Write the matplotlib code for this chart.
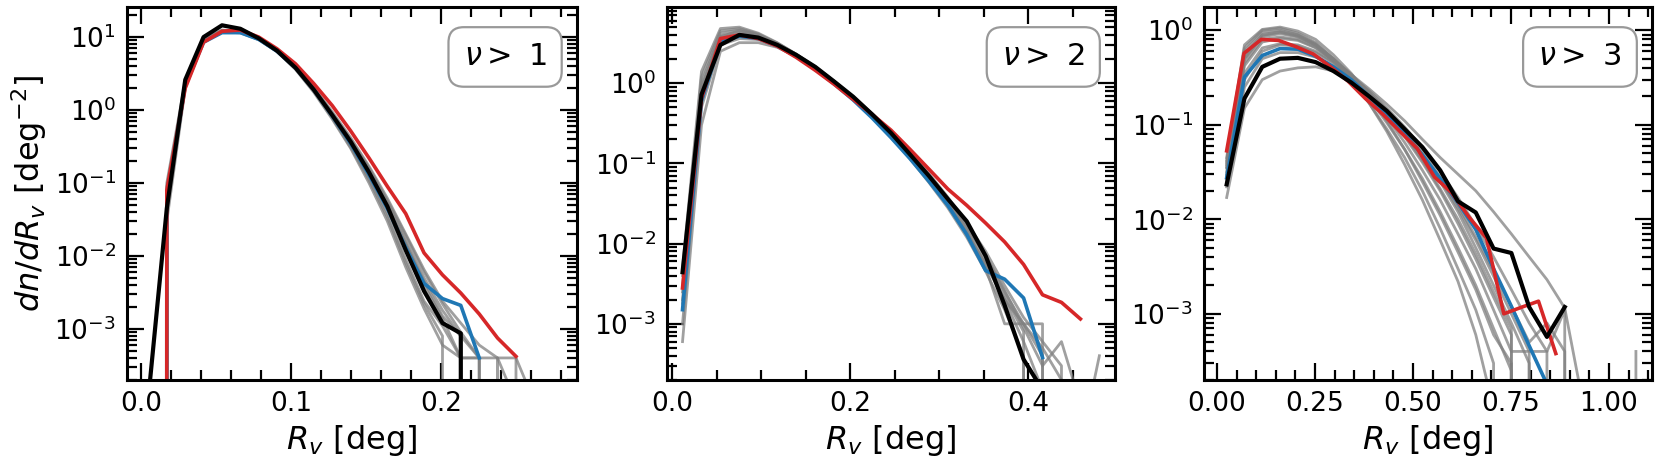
import matplotlib
matplotlib.use('Agg')
import matplotlib.pyplot as plt
from matplotlib.ticker import AutoMinorLocator, LogLocator

# ---- panel 1 : nu > 1 ----
x1 = [0.005, 0.0172, 0.0295, 0.0417, 0.054, 0.0662, 0.0785, 0.0907, 0.103, 0.1152, 0.1275,
      0.1397, 0.152, 0.1642, 0.1765, 0.1887, 0.201, 0.2132, 0.2255, 0.2377, 0.25, 0.2622]
black1 = [1.2e-4, 0.045, 2.6, 10, 14.5, 13, 9.6, 6.5, 3.8, 1.9, 0.85, 0.37, 0.14, 0.048, 0.012,
          3.3e-3, 1.2e-3, 8.7e-4, 0]
blue1 = [0, 0.06, 2.2, 8.5, 11.5, 11.5, 9.3, 6.4, 3.8, 1.9, 0.83, 0.35, 0.13, 0.045, 0.013,
         4.2e-3, 2.6e-3, 2.1e-3, 4e-4]
red1 = [0, 0.08, 2.0, 8.5, 12, 12.5, 10, 6.9, 4.3, 2.3, 1.15, 0.52, 0.22, 0.09, 0.038,
        0.011, 5.5e-3, 3.1e-3, 1.6e-3, 7.5e-4, 4.2e-4]
grey1 = [
    [0, 0.05, 2.3, 9.5, 12.5, 12, 9.4, 6.3, 3.7, 1.85, 0.8, 0.33, 0.12, 0.038, 9e-3, 2.4e-3, 1.1e-3, 4e-4, 4e-4, 0],
    [0, 0.1, 2.5, 9, 12, 11.8, 9.5, 6.6, 3.9, 2.0, 0.9, 0.4, 0.16, 0.055, 0.016, 5e-3, 1.8e-3, 8e-4, 4e-4, 0, 4e-4],
    [0, 0.04, 2.1, 8.8, 11.8, 11.4, 9.2, 6.3, 3.6, 1.75, 0.75, 0.3, 0.1, 0.03, 7e-3, 1.9e-3, 6e-4, 4e-4, 0],
    [0, 0.07, 2.4, 9.2, 12.2, 12, 9.7, 6.7, 4.0, 2.05, 0.95, 0.42, 0.17, 0.062, 0.02, 6.5e-3, 2.4e-3, 1.2e-3, 6e-4, 4e-4, 4e-4, 1e-4],
    [0, 0.03, 2.0, 8.6, 11.6, 11.6, 9.3, 6.4, 3.7, 1.8, 0.78, 0.31, 0.11, 0.034, 8e-3, 2.2e-3, 8e-4, 0],
    [0, 0.09, 2.3, 9.0, 11.9, 11.7, 9.4, 6.5, 3.85, 1.95, 0.88, 0.38, 0.15, 0.05, 0.015, 4.5e-3, 1.5e-3, 8e-4, 0, 4e-4, 0],
    [0, 0.06, 2.2, 8.9, 12.1, 11.9, 9.5, 6.5, 3.8, 1.9, 0.85, 0.36, 0.14, 0.048, 0.014, 4e-3, 1.4e-3, 4e-4, 4e-4, 4e-4, 1e-4],
    [0, 0.05, 2.2, 9.1, 12.3, 12.1, 9.6, 6.6, 3.9, 2.0, 0.9, 0.4, 0.16, 0.058, 0.019, 6e-3, 2.2e-3, 9e-4, 4e-4, 0],
]

# ---- panel 2 : nu > 2 ----
x2 = [0.0115, 0.0328, 0.0541, 0.0754, 0.0967, 0.118, 0.1393, 0.1606, 0.1819, 0.2032, 0.2245, 0.2458,
      0.2671, 0.2884, 0.3097, 0.331, 0.3523, 0.3736, 0.3949, 0.4162, 0.4375, 0.4588, 0.4801]
black2 = [4.4e-3, 0.72, 3.0, 4.0, 3.7, 3.0, 2.25, 1.6, 1.05, 0.68, 0.41, 0.24, 0.13, 0.07, 0.036,
          0.019, 7e-3, 1.7e-3, 3.6e-4, 1.5e-4]
blue2 = [1.5e-3, 0.6, 3.3, 3.85, 3.6, 2.9, 2.15, 1.5, 0.98, 0.62, 0.37, 0.21, 0.115, 0.06, 0.03,
         0.013, 4.6e-3, 3.6e-3, 2.1e-3, 3.8e-4]
red2 = [2.8e-3, 0.65, 3.6, 4.0, 3.6, 2.9, 2.1, 1.45, 0.97, 0.63, 0.41, 0.26, 0.15, 0.085, 0.048,
        0.03, 0.018, 0.0105, 5.5e-3, 2.3e-3, 1.85e-3, 1.15e-3]
grey2 = [
    [5e-3, 1.4, 4.8, 5.0, 4.2, 3.2, 2.3, 1.6, 1.05, 0.66, 0.4, 0.23, 0.125, 0.066, 0.032, 0.015, 6e-3, 2.2e-3, 8e-4, 0],
    [6e-4, 0.3, 2.5, 3.2, 3.2, 2.8, 2.15, 1.55, 1.02, 0.65, 0.39, 0.22, 0.12, 0.062, 0.03, 0.014, 5.5e-3, 2e-3, 1e-3, 4e-4, 0],
    [2e-3, 0.8, 3.8, 4.5, 4.0, 3.1, 2.25, 1.55, 1.0, 0.64, 0.38, 0.215, 0.115, 0.058, 0.028, 0.012, 4.5e-3, 1.5e-3, 4e-4, 0],
    [3e-3, 1.0, 4.2, 4.6, 4.0, 3.15, 2.3, 1.6, 1.06, 0.68, 0.42, 0.25, 0.14, 0.075, 0.038, 0.018, 8e-3, 3e-3, 1.2e-3, 6e-4, 3e-4, 0],
    [1e-3, 0.5, 3.0, 3.6, 3.5, 2.95, 2.2, 1.55, 1.03, 0.66, 0.4, 0.23, 0.125, 0.065, 0.031, 0.0135, 5e-3, 1e-3, 1e-3, 1e-3, 0],
    [4e-3, 1.2, 4.5, 4.8, 4.1, 3.15, 2.28, 1.58, 1.04, 0.66, 0.4, 0.23, 0.127, 0.066, 0.033, 0.016, 7e-3, 2.6e-3, 9e-4, 3e-4, 6e-4, 1e-4],
    [1.8e-3, 0.6, 3.4, 4.1, 3.8, 3.05, 2.25, 1.57, 1.03, 0.66, 0.4, 0.228, 0.122, 0.062, 0.03, 0.0135, 5.5e-3, 2e-3, 6e-4, 1.5e-4],
    [2.5e-3, 0.9, 3.9, 4.3, 3.9, 3.1, 2.28, 1.58, 1.05, 0.67, 0.41, 0.24, 0.13, 0.07, 0.035, 0.017, 7e-3, 2.5e-3, 1e-3, 5e-4, 2e-4, 3e-5, 4e-4],
]

# ---- panel 3 : nu > 3 ----
x3 = [0.0247, 0.0701, 0.1155, 0.1609, 0.2063, 0.2517, 0.2971, 0.3425, 0.3879, 0.4333, 0.4787, 0.5241,
      0.5695, 0.6149, 0.6603, 0.7057, 0.7511, 0.7965, 0.8419, 0.8873, 0.9327, 0.9781, 1.0235, 1.0689]
x3_red = [0.0247, 0.0689, 0.1131, 0.1573, 0.2015, 0.2457, 0.2899, 0.3341, 0.3783, 0.4225, 0.4667,
          0.5109, 0.5551, 0.5993, 0.6435, 0.6877, 0.7319, 0.7761, 0.8203, 0.8645]
black3 = [0.0234, 0.19, 0.41, 0.5, 0.51, 0.46, 0.37, 0.28, 0.2, 0.14, 0.09, 0.058, 0.033, 0.0155,
          0.0118, 4.9e-3, 4.4e-3, 1.18e-3, 5.7e-4, 1.18e-3]
blue3 = [0.0275, 0.32, 0.54, 0.64, 0.63, 0.53, 0.41, 0.3, 0.2, 0.13, 0.08, 0.048, 0.027, 0.015,
         7.8e-3, 3.0e-3, 1.2e-3, 4.6e-4, 1.8e-4]
red3 = [0.053, 0.57, 0.8, 0.78, 0.67, 0.56, 0.41, 0.29, 0.19, 0.13, 0.085, 0.056, 0.028, 0.019,
        0.0105, 6.3e-3, 1.0e-3, 1.17e-3, 1.36e-3, 3.8e-4]
grey3 = [
    [0.017, 0.15, 0.3, 0.37, 0.4, 0.41, 0.37, 0.3, 0.21, 0.14, 0.085, 0.048, 0.025, 0.012, 5e-3, 2e-3, 8e-4, 3e-4, 0],
    [0.045, 0.7, 1.02, 1.08, 0.98, 0.8, 0.55, 0.35, 0.2, 0.11, 0.055, 0.025, 0.011, 4.5e-3, 1.8e-3, 6e-4, 3e-4, 0],
    [0.04, 0.6, 0.95, 1.0, 0.9, 0.72, 0.5, 0.33, 0.2, 0.12, 0.065, 0.033, 0.016, 7e-3, 3e-3, 1.1e-3, 4e-4, 4e-4, 0],
    [0.03, 0.45, 0.8, 0.85, 0.8, 0.66, 0.48, 0.33, 0.21, 0.13, 0.075, 0.04, 0.02, 9e-3, 3.8e-3, 1.5e-3, 6e-4, 0],
    [0.035, 0.5, 0.85, 0.92, 0.85, 0.7, 0.5, 0.34, 0.22, 0.14, 0.085, 0.048, 0.026, 0.013, 6e-3, 2.5e-3, 1e-3, 4e-4, 4e-4, 0],
    [0.025, 0.3, 0.6, 0.7, 0.68, 0.58, 0.45, 0.33, 0.23, 0.15, 0.095, 0.057, 0.032, 0.017, 8.5e-3, 4e-3, 1.8e-3, 8e-4, 4e-4, 1.1e-3, 0],
    [0.028, 0.35, 0.65, 0.72, 0.7, 0.6, 0.46, 0.34, 0.24, 0.165, 0.11, 0.07, 0.045, 0.03, 0.02, 0.012, 7e-3, 4e-3, 2.3e-3, 1.15e-3, 1.2e-4],
    [0.038, 0.55, 0.9, 0.97, 0.88, 0.7, 0.49, 0.32, 0.19, 0.105, 0.055, 0.027, 0.012, 5e-3, 2e-3, 7e-4, 2.5e-4, 0],
    [0.022, 0.25, 0.5, 0.58, 0.58, 0.52, 0.42, 0.32, 0.22, 0.145, 0.09, 0.052, 0.028, 0.014, 6.5e-3, 2.8e-3, 1.2e-3, 5e-4, 8e-4, 4e-4, 0, 0, 0, 4e-4],
    [0.032, 0.42, 0.75, 0.82, 0.78, 0.65, 0.48, 0.34, 0.22, 0.135, 0.078, 0.042, 0.021, 0.01, 4.3e-3, 1.7e-3, 7e-4, 0],
    [0.042, 0.65, 1.0, 1.05, 0.93, 0.74, 0.5, 0.31, 0.17, 0.085, 0.038, 0.016, 6e-3, 2.2e-3, 6e-4, 1e-4],
    [0.036, 0.5, 0.88, 0.95, 0.86, 0.69, 0.47, 0.3, 0.17, 0.09, 0.045, 0.02, 8e-3, 3e-3, 1.1e-3, 3e-4, 0],
]

labels = [r'$\nu >$ 1', r'$\nu >$ 2', r'$\nu >$ 3']

plt.rcParams['axes.linewidth'] = 2.2

fig = plt.figure(figsize=(16.61, 4.69), dpi=100)
boxes = [[0.0765, 0.19, 0.2709, 0.795],
         [0.4016, 0.19, 0.2697, 0.795],
         [0.7249, 0.19, 0.2697, 0.795]]
axes = [fig.add_axes(b) for b in boxes]

panels = [
    (x1, x1, black1, blue1, red1, grey1, (-0.0093, 0.2907), (2e-4, 25.8)),
    (x2, x2, black2, blue2, red2, grey2, (-0.0059, 0.4977), (2e-4, 8.9)),
    (x3, x3_red, black3, blue3, red3, grey3, (-0.033, 1.11), (2e-4, 1.76)),
]

for ax, (x, xr, blk, blu, rd, greys, xl, yl), lab in zip(axes, panels, labels):
    ax.set_yscale('log')
    for g in greys:
        ax.plot(x[:len(g)], g, color='gray', alpha=0.75, lw=2.0)
    ax.plot(x[:len(blu)], blu, color='tab:blue', lw=2.6)
    ax.plot(xr[:len(rd)], rd, color='tab:red', lw=2.6)
    ax.plot(x[:len(blk)], blk, color='black', lw=3)
    ax.set_xlim(*xl)
    ax.set_ylim(*yl)
    ax.xaxis.set_minor_locator(AutoMinorLocator())
    ax.yaxis.set_major_locator(LogLocator(base=10, numticks=20))
    ax.yaxis.set_minor_locator(LogLocator(base=10, subs=range(2, 10), numticks=20))
    ax.tick_params(which='both', direction='in', top=True, right=True, labelsize=19, pad=8)
    ax.tick_params(which='major', length=12, width=1.6)
    ax.tick_params(which='minor', length=7, width=1.6)
    ax.set_xlabel(r'$R_v$ [deg]', fontsize=23)
    ax.text(0.932, 0.905, lab, transform=ax.transAxes, ha='right', va='top', fontsize=22,
            bbox=dict(boxstyle='round,pad=0.5', fc='white', ec='#999999', lw=1.6))

axes[0].set_ylabel(r'$dn/dR_v$ [deg$^{-2}$]', fontsize=23)

fig.savefig('out.png', dpi=100)
